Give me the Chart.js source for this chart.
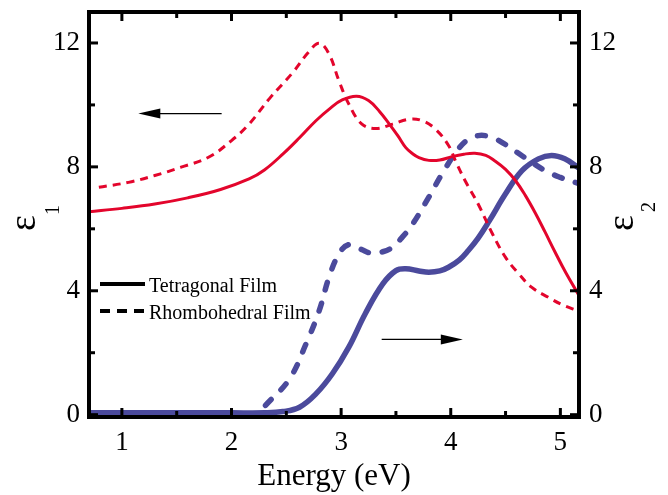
<!DOCTYPE html>
<html><head><meta charset="utf-8">
<script src="https://cdn.jsdelivr.net/npm/chart.js@4/dist/chart.umd.min.js"></script>
<style>html,body{margin:0;padding:0;background:#fff}#wrap{width:668px;height:495px}</style>
</head><body><div id="wrap"><canvas id="c" width="668" height="495"></canvas></div>
<script>
// ε1, tetragonal film (solid red)
const eps1TetE = [0.70,1.00,1.30,1.60,1.90,2.16,2.30,2.47,2.62,2.77,2.90,3.01,3.14,3.25,3.35,3.44,3.52,3.59,3.65,3.71,3.80,3.90,4.01,4.12,4.22,4.32,4.40,4.50,4.59,4.68,4.77,4.86,4.95,5.05,5.17];
const eps1TetV = [6.55,6.66,6.80,7.00,7.27,7.61,7.90,8.42,8.94,9.49,9.89,10.16,10.28,10.14,9.79,9.38,8.99,8.62,8.43,8.30,8.21,8.22,8.33,8.41,8.44,8.37,8.20,7.92,7.56,7.08,6.52,5.90,5.26,4.58,3.85];
// ε1, rhombohedral film (dashed red)
const eps1RhoE = [0.79,1.06,1.30,1.54,1.79,2.00,2.16,2.35,2.56,2.70,2.80,2.89,2.98,3.07,3.19,3.32,3.47,3.62,3.74,3.86,3.98,4.05,4.13,4.25,4.38,4.50,4.62,4.74,4.89,5.01,5.17];
const eps1RhoV = [7.34,7.50,7.72,7.99,8.31,8.85,9.38,10.22,11.05,11.69,11.99,11.64,10.78,10.03,9.38,9.24,9.38,9.54,9.49,9.22,8.69,8.14,7.56,6.80,5.84,5.08,4.55,4.11,3.79,3.56,3.34];
// ε2, tetragonal film (solid blue)
const eps2TetE = [0.70,1.00,1.50,2.00,2.30,2.47,2.62,2.77,2.92,3.07,3.22,3.38,3.50,3.59,3.71,3.80,3.90,3.98,4.08,4.16,4.25,4.35,4.50,4.65,4.80,4.92,5.04,5.17];
const eps2TetV = [0.06,0.06,0.06,0.06,0.06,0.10,0.24,0.67,1.32,2.18,3.26,4.22,4.65,4.71,4.64,4.60,4.64,4.76,5.00,5.30,5.70,6.25,7.13,7.88,8.26,8.37,8.26,7.96];
// ε2, rhombohedral film (dashed blue)
const eps2RhoE = [2.31,2.53,2.68,2.80,2.89,2.98,3.07,3.18,3.28,3.38,3.47,3.56,3.65,3.80,3.92,4.07,4.16,4.25,4.34,4.44,4.65,4.86,5.00,5.17];
const eps2RhoV = [0.30,1.16,2.29,3.36,4.44,5.19,5.49,5.34,5.21,5.26,5.41,5.74,6.14,7.02,7.77,8.58,8.89,9.01,8.99,8.85,8.36,7.88,7.66,7.46];

const xTicks = [1,2,3,4,5];
const xMinor = [1.5,2.5,3.5,4.5];
const yTicks = [0,4,8,12];
const yMinor = [2,6,10];
const legendLabels = ['Tetragonal Film','Rhombohedral Film'];
const xTitle = 'Energy (eV)';
const leftTitle = ['ε','1'];
const rightTitle = ['ε','2'];
// annotation arrows in data units: [fromE, fromV, toE, toV]
const arrows = [[1.91,9.72,1.15,9.72],[3.37,2.43,4.11,2.43]];

const RED = '#E3052C';
const BLUE = '#4B4A9C';
const SERIF = '"Liberation Serif", "Times New Roman", serif';

const pts = (E,V) => E.map((e,i)=>({x:e,y:V[i]}));
const noPad = s => { s.paddingTop = 0; s.paddingBottom = 0; s.paddingLeft = 0; s.paddingRight = 0; };

const framePlugin = {
  id:'frame',
  afterDraw(chart){
    const ctx = chart.ctx, a = chart.chartArea;
    const sx = chart.scales.x, sy = chart.scales.y;
    ctx.save();
    ctx.strokeStyle = '#000';
    ctx.lineWidth = 4;
    ctx.strokeRect(a.left, a.top, a.right-a.left, a.bottom-a.top);
    ctx.lineWidth = 3;
    const tick = (x1,y1,x2,y2)=>{ctx.beginPath();ctx.moveTo(x1,y1);ctx.lineTo(x2,y2);ctx.stroke();};
    xTicks.forEach(v=>{const p=sx.getPixelForValue(v); tick(p,a.bottom,p,a.bottom-9); tick(p,a.top,p,a.top+9);});
    xMinor.forEach(v=>{const p=sx.getPixelForValue(v); tick(p,a.bottom,p,a.bottom-6); tick(p,a.top,p,a.top+6);});
    yTicks.forEach(v=>{const p=sy.getPixelForValue(v); tick(a.left,p,a.left+9,p); tick(a.right,p,a.right-9,p);});
    yMinor.forEach(v=>{const p=sy.getPixelForValue(v); tick(a.left,p,a.left+6,p); tick(a.right,p,a.right-6,p);});

    // arrows
    ctx.fillStyle = '#000';
    ctx.lineWidth = 1.3;
    arrows.forEach(([e1,v1,e2,v2])=>{
      const x1=sx.getPixelForValue(e1), y1=sy.getPixelForValue(v1);
      const x2=sx.getPixelForValue(e2), y2=sy.getPixelForValue(v2);
      const dir = Math.sign(x2-x1);
      ctx.beginPath(); ctx.moveTo(x1,y1); ctx.lineTo(x2-dir*18,y2); ctx.stroke();
      ctx.beginPath(); ctx.moveTo(x2,y2); ctx.lineTo(x2-dir*22,y2-5); ctx.lineTo(x2-dir*22,y2+5); ctx.closePath(); ctx.fill();
    });

    // legend
    ctx.font = '20px ' + SERIF;
    ctx.textBaseline = 'alphabetic';
    ctx.textAlign = 'left';
    ctx.lineWidth = 4;
    const lx = a.left + 11, rows = [a.top + 272, a.top + 299];
    legendLabels.forEach((t,i)=>{
      ctx.setLineDash(i===0?[]:[10,7]);
      ctx.beginPath(); ctx.moveTo(lx, rows[i]); ctx.lineTo(lx+45, rows[i]); ctx.stroke();
      ctx.setLineDash([]);
      ctx.fillText(t, lx+49, rows[i]+7.5);
    });

    // rotated axis titles with subscripts
    const rot = (txt, x, y, size) => {
      ctx.save(); ctx.translate(x,y); ctx.rotate(-Math.PI/2);
      ctx.font = size + 'px ' + SERIF; ctx.textAlign='center'; ctx.textBaseline='alphabetic';
      ctx.fillText(txt,0,0); ctx.restore();
    };
    rot(leftTitle[0], 35, 223, 38);
    rot(leftTitle[1], 59, 210, 20);
    rot(rightTitle[0], 633, 223, 38);
    rot(rightTitle[1], 655, 207, 20);
    ctx.restore();
  }
};

const tickFont = {family: SERIF, size: 27};

new Chart(document.getElementById('c'), {
  type: 'line',
  data: {
    datasets: [
      {label:'ε1 Tetragonal', data: pts(eps1TetE,eps1TetV), borderColor: RED, borderWidth: 3, yAxisID:'y'},
      {label:'ε1 Rhombohedral', data: pts(eps1RhoE,eps1RhoV), borderColor: RED, borderWidth: 3, borderDash:[8,6], yAxisID:'y'},
      {label:'ε2 Tetragonal', data: pts(eps2TetE,eps2TetV), borderColor: BLUE, borderWidth: 5.5, yAxisID:'y2'},
      {label:'ε2 Rhombohedral', data: pts(eps2RhoE,eps2RhoV), borderColor: BLUE, borderWidth: 5.5, borderDash:[8,14], borderCapStyle:'round', yAxisID:'y2'}
    ]
  },
  options: {
    responsive: false,
    devicePixelRatio: 1,
    animation: false,
    layout: {padding: 0},
    elements: {point:{radius:0}, line:{tension:0.4, fill:false}},
    plugins: {legend:{display:false}, tooltip:{enabled:false}},
    scales: {
      x: {type:'linear', position:'bottom', min:0.7, max:5.17,
        afterBuildTicks: s => { s.ticks = xTicks.map(v=>({value:v})); },
        ticks:{font:tickFont, color:'#000', padding:10, maxRotation:0, autoSkip:false, callback:v=>String(v)},
        grid:{display:false, drawTicks:false}, border:{display:false},
        title:{display:true, text:xTitle, color:'#000', font:{family:SERIF,size:31}, padding:0},
        afterFit: s => { s.height = 78; noPad(s); }
      },
      x2: {type:'linear', position:'top', min:0.7, max:5.17,
        ticks:{display:false}, grid:{display:false, drawTicks:false}, border:{display:false},
        afterFit: s => { s.height = 12; noPad(s); }
      },
      y: {type:'linear', position:'left', min:-0.075, max:13,
        afterBuildTicks: s => { s.ticks = yTicks.map(v=>({value:v})); },
        ticks:{font:tickFont, color:'#000', padding:9, callback:v=>String(v)},
        grid:{display:false, drawTicks:false}, border:{display:false},
        afterFit: s => { s.width = 89; noPad(s); }
      },
      y2: {type:'linear', position:'right', min:-0.075, max:13,
        afterBuildTicks: s => { s.ticks = yTicks.map(v=>({value:v})); },
        ticks:{font:tickFont, color:'#000', padding:10, callback:v=>String(v)},
        grid:{display:false, drawTicks:false}, border:{display:false},
        afterFit: s => { s.width = 89; noPad(s); }
      }
    }
  },
  plugins: [framePlugin]
});
</script></body></html>
